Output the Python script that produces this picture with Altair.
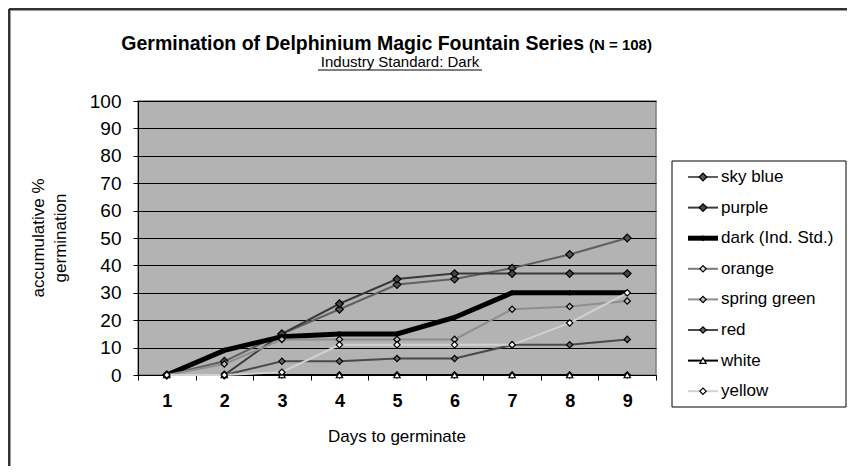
import altair as alt
import pandas as pd

days = [1, 2, 3, 4, 5, 6, 7, 8, 9]
series_names = ["sky blue", "purple", "dark (Ind. Std.)", " orange", "spring green", "red", "white", "yellow"]
sky_blue = [0, 5, 15, 24, 33, 35, 39, 44, 50]
purple = [0, 0, 15, 26, 35, 37, 37, 37, 37]
dark = [0, 9, 14, 15, 15, 21, 30, 30, 30]
orange = [0, 0, 0, 0, 0, 0, 0, 0, 0]
spring_green = [0, 4, 13, 13, 13, 13, 24, 25, 27]
red = [0, 0, 5, 5, 6, 6, 11, 11, 13]
white = [0, 0, 0, 0, 0, 0, 0, 0, 0]
yellow = [0, 0, 1, 11, 11, 11, 11, 19, 30]
y_ticks = [0, 10, 20, 30, 40, 50, 60, 70, 80, 90, 100]

values = [sky_blue, purple, dark, orange, spring_green, red, white, yellow]

# style per series: line colour, line width, marker shape, marker fill, marker size
styles = [
    ("#5f5f5f", 2, "diamond", "#555555", 60),
    ("#3a3a3a", 2, "diamond", "#444444", 60),
    ("#000000", 5, "diamond", "#000000", 18),
    ("#7a7a7a", 2, "diamond", "#dddddd", 40),
    ("#8e8e8e", 2, "diamond", "#bbbbbb", 40),
    ("#4a4a4a", 2, "diamond", "#666666", 40),
    ("#000000", 2, "triangle-up", "#ffffff", 40),
    ("#d2d2d2", 2, "diamond", "#ffffff", 40),
]

rows = []
for name, vals in zip(series_names, values):
    for d, v in zip(days, vals):
        rows.append({"day": d, "value": v, "series": name})
df = pd.DataFrame(rows)

W, H = 518, 274
FONT = "Liberation Sans"

xvals = [0.5 + 0.5 * i for i in range(19)]
x_enc = alt.X(
    "day:Q",
    scale=alt.Scale(domain=[0.5, 9.5], nice=False, zero=False),
    axis=alt.Axis(
        values=xvals,
        labelExpr="datum.value % 1 === 0 ? format(datum.value, 'd') : ''",
        tickOpacity={"condition": {"test": "datum.value % 1 === 0", "value": 0}, "value": 1},
        labelOverlap=False,
        grid=False,
        title=None,
        labelFont=FONT,
        labelFontSize=18,
        labelFontWeight="bold",
        labelColor="#000000",
        labelPadding=12,
        tickSize=5,
        tickColor="#000000",
        domainColor="#000000",
    ),
)
y_enc = alt.Y(
    "value:Q",
    scale=alt.Scale(domain=[0, 100], nice=False),
    axis=alt.Axis(
        values=y_ticks,
        grid=True,
        gridColor="#000000",
        gridWidth=1,
        title=None,
        labelFont=FONT,
        labelFontSize=19,
        labelColor="#000000",
        labelPadding=12,
        tickSize=5,
        tickColor="#000000",
        domainColor="#000000",
    ),
)

base = alt.Chart(df)
layers = []
dummy = pd.DataFrame({"a": [0]})

leg_x0, leg_x1, leg_mx, leg_tx = 550, 580, 565, 583
leg_y0, leg_dy = 76, 30.6

for i, name in enumerate(series_names):
    col, sw, shape, fill, size = styles[i]
    sub = base.transform_filter(alt.datum.series == name)
    layers.append(sub.mark_line(color=col, strokeWidth=sw, clip=False).encode(x=x_enc, y=y_enc))
    layers.append(
        sub.mark_point(shape=shape, filled=True, fill=fill, stroke="#000000", strokeWidth=1.2,
                       size=size, opacity=1, clip=False).encode(x=x_enc, y=y_enc)
    )

# legend box
legend_layers = [
    alt.Chart(dummy).mark_rect(fill="#ffffff", stroke="#000000", strokeWidth=1).encode(
        x=alt.value(534), x2=alt.value(708), y=alt.value(60), y2=alt.value(306)
    )
]
for i, name in enumerate(series_names):
    col, sw, shape, fill, size = styles[i]
    yy = leg_y0 + leg_dy * i
    legend_layers.append(
        alt.Chart(dummy).mark_rule(color=col, strokeWidth=sw).encode(
            x=alt.value(leg_x0), x2=alt.value(leg_x1), y=alt.value(yy)
        )
    )
    legend_layers.append(
        alt.Chart(dummy).mark_point(shape=shape, filled=True, fill=fill, stroke="#000000",
                                    strokeWidth=1.2, size=size, opacity=1).encode(
            x=alt.value(leg_mx), y=alt.value(yy)
        )
    )
    legend_layers.append(
        alt.Chart(dummy).mark_text(text=name, align="left", baseline="middle", font=FONT,
                                   fontSize=17, color="#000000").encode(
            x=alt.value(leg_tx), y=alt.value(yy)
        )
    )

# titles
title_layers = [
    alt.Chart(dummy).mark_text(text="Germination of Delphinium Magic Fountain Series", align="right",
                               baseline="alphabetic", font=FONT, fontSize=19.5, fontWeight="bold",
                               color="#000000").encode(x=alt.value(446), y=alt.value(-51)),
    alt.Chart(dummy).mark_text(text="(N = 108)", align="left", baseline="alphabetic", font=FONT,
                               fontSize=15, fontWeight="bold", color="#000000").encode(
        x=alt.value(451), y=alt.value(-51)),
    alt.Chart(dummy).mark_text(text="Industry Standard: Dark", align="center", baseline="alphabetic",
                               font=FONT, fontSize=15, color="#000000").encode(
        x=alt.value(262), y=alt.value(-34)),
    alt.Chart(dummy).mark_rule(color="#000000", strokeWidth=1).encode(
        x=alt.value(180), x2=alt.value(344), y=alt.value(-31)),
    alt.Chart(dummy).mark_text(text=["accumulative %", "germination"], align="center",
                               baseline="middle", angle=270, font=FONT, fontSize=17,
                               lineHeight=22, color="#000000").encode(
        x=alt.value(-99), y=alt.value(137)),
    alt.Chart(dummy).mark_text(text="Days to germinate", align="center", baseline="middle",
                               font=FONT, fontSize=17, color="#000000").encode(
        x=alt.value(259), y=alt.value(336)),
    # outer frame (top and left edges)
    alt.Chart(dummy).mark_rule(color="#333333", strokeWidth=3).encode(
        x=alt.value(-129), x2=alt.value(709), y=alt.value(-92)),
    alt.Chart(dummy).mark_rule(color="#333333", strokeWidth=3).encode(
        x=alt.value(-129), y=alt.value(-92), y2=alt.value(365)),
]

chart = alt.layer(*layers, *legend_layers, *title_layers).properties(
    width=W,
    height=H,
    autosize=alt.AutoSizeParams(type="none"),
    padding={"left": 130, "top": 93, "right": 191, "bottom": 91},
    background="#ffffff",
).configure_view(
    stroke="#808080", strokeWidth=1.5, fill="#b3b3b3"
)

chart.save("out.html", embed_options={"renderer": "svg", "actions": False})
